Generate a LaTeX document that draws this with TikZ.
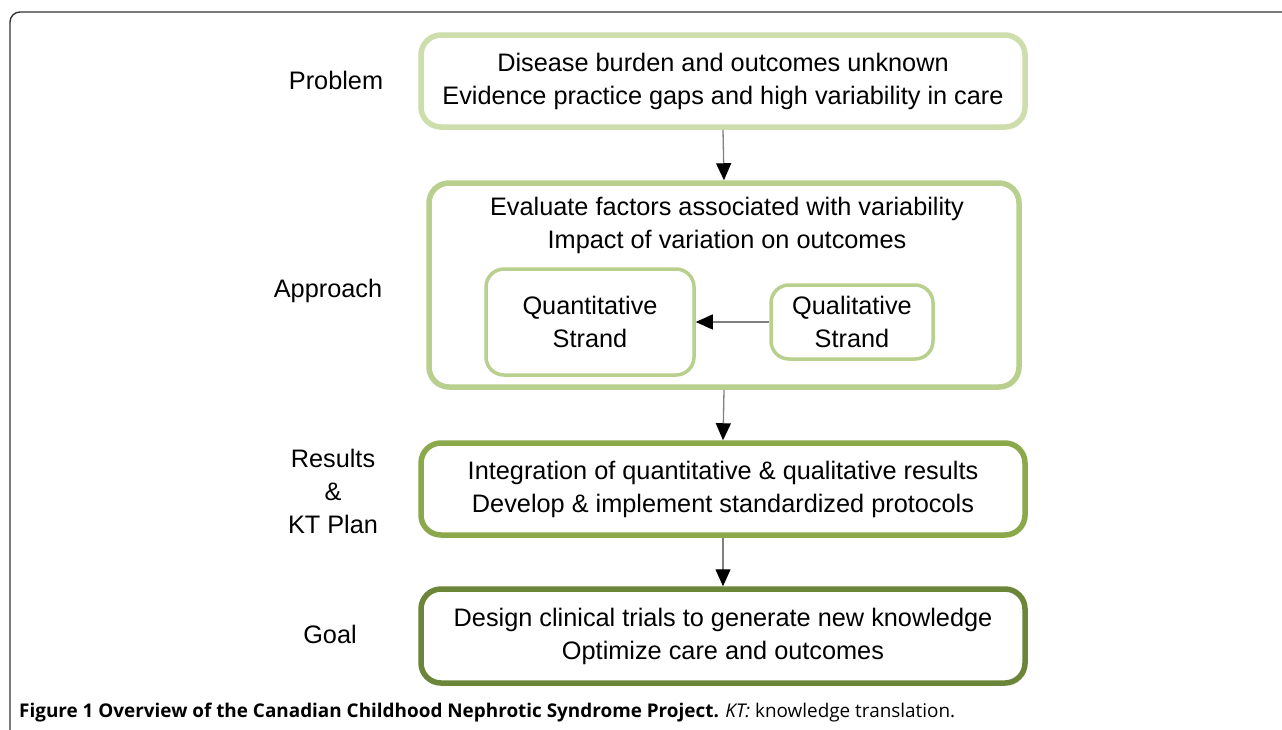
\documentclass[tikz,border=0pt]{standalone}
\usepackage{fontspec}
\setmainfont{Liberation Sans}
\newfontfamily\capfont{Open Sans}
\usetikzlibrary{arrows.meta}
\definecolor{problemc}{HTML}{CDDDAC}
\definecolor{approachc}{HTML}{B9CF8E}
\definecolor{resultsc}{HTML}{8BA84B}
\definecolor{goalc}{HTML}{6B8639}
\tikzset{
  stagebox/.style={draw=#1, line width=5.5pt, rounded corners=20pt, fill=white, align=center,
    inner sep=0pt, font=\fontsize{25.3}{33}\selectfont},
  strandbox/.style={draw=approachc, line width=3.5pt, rounded corners=18pt, fill=white, align=center,
    inner sep=0pt, font=\fontsize{25.3}{33}\selectfont},
  stagelabel/.style={align=center, font=\fontsize{25.3}{33}\selectfont},
  flow/.style={draw=black!50, line width=1.3pt, -{Triangle[black,width=15pt,length=17pt]}}
}
\begin{document}
\begin{tikzpicture}[x=1pt,y=-1pt]
        \useasboundingbox (0,0) rectangle (1282,729);
        \fill[white] (0,0) rectangle (1282,729);
        \draw[line width=1.4pt, black!80, rounded corners=10pt] (10,760) |- (1300,12);
        % boxes
        \node[stagebox=problemc, minimum width=604pt, minimum height=92pt] (problem) at (723,81)
          {Disease burden and outcomes unknown\\Evidence practice gaps and high variability in care};
        \node[stagebox=approachc, minimum width=590pt, minimum height=204pt] (approach) at (724,285) {};
        \node[stagelabel] (approachtxt) at (727,225)
          {Evaluate factors associated with variability\\Impact of variation on outcomes};
        \node[strandbox, minimum width=208pt, minimum height=106pt] (quant) at (590,322)
          {Quantitative\\Strand};
        \node[strandbox, minimum width=162pt, minimum height=74pt] (qual) at (852,322)
          {Qualitative\\Strand};
        \node[stagebox=resultsc, minimum width=604pt, minimum height=92pt] (results) at (723,489)
          {Integration of quantitative \& qualitative results\\Develop \& implement standardized protocols};
        \node[stagebox=goalc, minimum width=604pt, minimum height=94pt] (goal) at (723,636)
          {Design clinical trials to generate new knowledge\\Optimize care and outcomes};
        % stage labels
        \node[stagelabel] (lproblem) at (336,80) {Problem};
        \node[stagelabel] (lapproach) at (328,291) {Approach};
        \node[stagelabel] (lresults) at (333,491) {Results\\\&\\KT Plan};
        \node[stagelabel] (lgoal) at (330,634) {Goal};
        % arrows
        \draw[flow] (problem.south) -- (approach.north);
        \draw[flow] (approach.south) -- (results.north);
        \draw[flow] (results.south) -- (goal.north);
        \draw[flow] (qual.west) -- (quant.east);
        % caption
        \node[anchor=west, inner sep=0pt, font=\capfont\fontsize{18.9}{22}\selectfont] (caption) at (19,713)
          {\textbf{Figure 1 Overview of the Canadian Childhood Nephrotic Syndrome Project.} \textit{KT:} knowledge translation.};
      \end{tikzpicture}
\end{document}
